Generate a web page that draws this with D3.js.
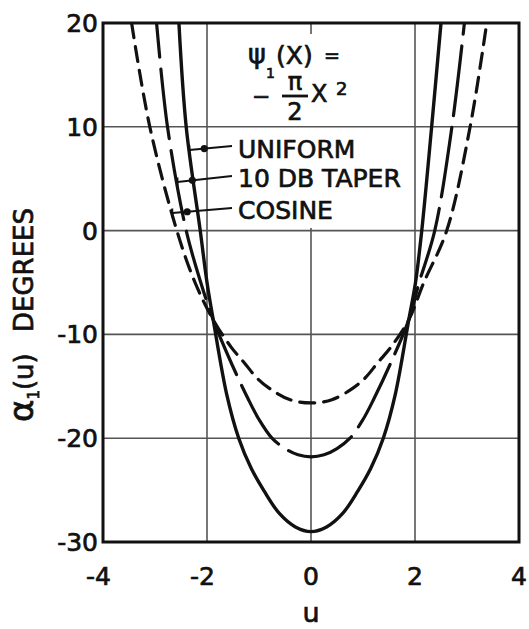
<!DOCTYPE html>
<html>
<head>
<meta charset="utf-8">
<script src="https://cdn.jsdelivr.net/npm/d3@7"></script>
<style>
  body { margin: 0; background: #fff; }
  text { font-family: "DejaVu Sans", sans-serif; fill: #111; stroke: #111; stroke-width: 0.7px; }
</style>
</head>
<body>
<svg id="chart" width="529" height="629"></svg>
<script>
// Pattern phase alpha_1(u), in degrees, for a quadratic aperture phase
// psi_1(x) = -(pi/2) x^2 under three amplitude tapers.
const uniformU   = [-2.54, -2.40, -2.13, -2.00, -1.88, -1.62, -1.39, -1.15, -0.90, -0.60, -0.30, 0, 0.30, 0.60, 0.90, 1.15, 1.39, 1.62, 1.88, 2.01, 2.13, 2.32, 2.50];
const uniformDeg = [20, 10, 0, -5, -8.6, -15.8, -20, -22.9, -25.1, -27.3, -28.55, -29.0, -28.55, -27.3, -25.1, -22.9, -20, -15.8, -8.6, -5, 0, 10, 20];

const taperU   = [-2.97, -2.76, -2.40, -2.12, -1.88, -1.52, -1.21, -1.00, -0.75, -0.50, -0.25, 0, 0.25, 0.50, 0.75, 1.00, 1.21, 1.52, 1.88, 2.08, 2.38, 2.71, 2.95];
const taperDeg = [20, 10, 0, -5, -8.6, -12.9, -16.2, -18.2, -20, -21.0, -21.6, -21.8, -21.6, -21.0, -20, -18.2, -16.2, -12.9, -8.6, -5, 0, 10, 20];

const cosineU   = [-3.45, -3.10, -2.58, -2.23, -1.88, -1.54, -1.28, -1.04, -0.80, -0.40, 0, 0.40, 0.80, 1.04, 1.28, 1.54, 1.88, 2.17, 2.61, 3.06, 3.38];
const cosineDeg = [20, 10, 0, -5, -8.6, -11.2, -12.75, -14.2, -15.2, -16.3, -16.6, -16.3, -15.2, -14.2, -12.75, -11.2, -8.6, -5, 0, 10, 20];

const xTickValues = [-4, -2, 0, 2, 4];
const xTickLabels = ["-4", "-2", "0", "2", "4"];
const yTickValues = [-30, -20, -10, 0, 10, 20];
const yTickLabels = ["-30", "-20", "-10", "0", "10", "20"];

const seriesNames = ["UNIFORM", "10 DB TAPER", "COSINE"];

// ---- layout ----
const plot = { left: 103, right: 519, top: 23, bottom: 542 };
const legend = { x: 238, baselines: [158, 187, 219], leaderEndX: 232, leaderEndY: [146, 176, 208], tipY: [150, 182, 213], dotOffset: 15 };
const formulaGap = { top: 34, bottom: 228 };   // the u = 0 grid line stops behind the formula block
const ink = "#111", gridInk = "#555";

const svg = d3.select("#chart");
const x = d3.scaleLinear().domain([-4, 4]).range([plot.left, plot.right]);
const y = d3.scaleLinear().domain([-30, 20]).range([plot.bottom, plot.top]);

// gapAtU: where along the bottom of a dashed curve one of the gaps sits
const series = [
  { u: uniformU, deg: uniformDeg, dash: null,          width: 3.4 },
  { u: taperU,   deg: taperDeg,   dash: [70, 12],      width: 3.2, gapAtU: -0.7 },
  { u: cosineU,  deg: cosineDeg,  dash: [15, 9],       width: 3.2 }
];

// ---- grid ----
const grid = svg.append("g").attr("stroke", gridInk).attr("stroke-width", 1.6);
xTickValues.filter(v => v > -4 && v < 4).forEach(v => {
  if (v === 0) {
    grid.append("line").attr("x1", x(v)).attr("x2", x(v)).attr("y1", plot.top).attr("y2", formulaGap.top);
    grid.append("line").attr("x1", x(v)).attr("x2", x(v)).attr("y1", formulaGap.bottom).attr("y2", plot.bottom);
  } else {
    grid.append("line").attr("x1", x(v)).attr("x2", x(v)).attr("y1", plot.top).attr("y2", plot.bottom);
  }
});
yTickValues.filter(v => v > -30 && v < 20).forEach(v => {
  grid.append("line").attr("x1", plot.left).attr("x2", plot.right).attr("y1", y(v)).attr("y2", y(v));
});

// ---- curves ----
svg.append("clipPath").attr("id", "plotClip").append("rect")
  .attr("x", plot.left).attr("y", plot.top)
  .attr("width", plot.right - plot.left).attr("height", plot.bottom - plot.top);

const line = d3.line().x(d => x(d[0])).y(d => y(d[1])).curve(d3.curveCatmullRom.alpha(0.5));
const curves = svg.append("g").attr("clip-path", "url(#plotClip)");
series.forEach(s => {
  const pts = s.u.map((u, i) => [u, s.deg[i]]);
  const path = curves.append("path")
    .attr("d", line(pts))
    .attr("fill", "none")
    .attr("stroke", ink)
    .attr("stroke-width", s.width)
    .attr("stroke-linecap", "round");
  if (s.dash) {
    path.attr("stroke-dasharray", s.dash.join(","));
    if (s.gapAtU !== undefined) {
      // shift the dash pattern so a gap is centred at gapAtU on the lower arc
      const node = path.node(), total = node.getTotalLength();
      const target = x(s.gapAtU);
      let best = 0, bestD = Infinity;
      for (let L = 0; L <= total; L += 0.5) {
        const p = node.getPointAtLength(L);
        if (p.y > y(-12)) {
          const d = Math.abs(p.x - target);
          if (d < bestD) { bestD = d; best = L; }
        }
      }
      const period = s.dash[0] + s.dash[1];
      const gapCentre = s.dash[0] + s.dash[1] / 2;
      const off = ((gapCentre - best) % period + period) % period;
      path.attr("stroke-dashoffset", -off + period);
    }
  }
});

// ---- frame ----
svg.append("rect")
  .attr("x", plot.left).attr("y", plot.top)
  .attr("width", plot.right - plot.left).attr("height", plot.bottom - plot.top)
  .attr("fill", "none").attr("stroke", ink).attr("stroke-width", 3);

// ---- tick labels ----
const probe = svg.append("text").attr("font-size", 25).text("0");
const digitW = probe.node().getComputedTextLength();
probe.remove();

svg.append("g").selectAll("text").data(xTickValues).join("text")
  .attr("x", d => x(d) + digitW / 2)
  .attr("y", 585)
  .attr("text-anchor", "end")
  .attr("font-size", 25)
  .text((d, i) => xTickLabels[i]);

svg.append("g").selectAll("text").data(yTickValues).join("text")
  .attr("x", 98)
  .attr("y", d => y(d))
  .attr("dy", "0.36em")
  .attr("text-anchor", "end")
  .attr("font-size", 25)
  .text((d, i) => yTickLabels[i]);

// ---- axis titles ----
svg.append("text").attr("x", x(0)).attr("y", 622).attr("text-anchor", "middle")
  .attr("font-size", 27).text("u");

const yTitle = svg.append("text")
  .attr("transform", "translate(33,315) rotate(-90)")
  .attr("text-anchor", "middle")
  .attr("font-size", 26);
yTitle.append("tspan").attr("font-size", 34).text("α");
yTitle.append("tspan").attr("font-size", 15).attr("dy", 6).text("1");
yTitle.append("tspan").attr("dy", -6).text("(u)");
yTitle.append("tspan").text("\u2002 DEGREES");

// ---- formula block ----
const f = svg.append("g");
f.append("text").attr("x", 248).attr("y", 63).attr("font-size", 27).text("ψ");
f.append("text").attr("x", 266).attr("y", 78).attr("font-size", 14).text("1");
f.append("text").attr("x", 276).attr("y", 64).attr("font-size", 25).text("(X)");
f.append("text").attr("x", 324).attr("y", 62).attr("font-size", 19).text("=");
f.append("text").attr("x", 252).attr("y", 104).attr("font-size", 22).text("−");
f.append("text").attr("x", 295).attr("y", 90).attr("font-size", 24).attr("text-anchor", "middle").text("π");
f.append("line").attr("x1", 282).attr("x2", 308).attr("y1", 96).attr("y2", 96)
  .attr("stroke", ink).attr("stroke-width", 2.8);
f.append("text").attr("x", 295).attr("y", 120).attr("font-size", 24).attr("text-anchor", "middle").text("2");
f.append("text").attr("x", 311).attr("y", 102).attr("font-size", 24).text("X");
f.append("text").attr("x", 336).attr("y", 95).attr("font-size", 18).text("2");

// ---- series labels with leaders pointing at the left branch of each curve ----
function leftBranchU(s, deg) {
  for (let i = 0; i < s.u.length - 1; i++) {
    const a = s.deg[i], b = s.deg[i + 1];
    if ((a - deg) * (b - deg) <= 0 && a !== b) {
      const t = (deg - a) / (b - a);
      return s.u[i] + t * (s.u[i + 1] - s.u[i]);
    }
  }
  return s.u[0];
}

const labels = svg.append("g");
seriesNames.forEach((name, i) => {
  const tipDeg = y.invert(legend.tipY[i]);
  const tipX = x(leftBranchU(series[i], tipDeg));
  const tipY = legend.tipY[i];
  const endX = legend.leaderEndX, endY = legend.leaderEndY[i];
  labels.append("line").attr("x1", tipX).attr("y1", tipY).attr("x2", endX).attr("y2", endY)
    .attr("stroke", ink).attr("stroke-width", 1.8);
  const len = Math.hypot(endX - tipX, endY - tipY);
  const dx = (endX - tipX) / len, dy = (endY - tipY) / len;
  labels.append("circle")
    .attr("cx", tipX + dx * legend.dotOffset).attr("cy", tipY + dy * legend.dotOffset)
    .attr("r", 3.6).attr("fill", ink);
  labels.append("line").attr("x1", tipX).attr("x2", tipX).attr("y1", tipY - 4.5).attr("y2", tipY + 4.5)
    .attr("stroke", ink).attr("stroke-width", 2);
  labels.append("text").attr("x", legend.x).attr("y", legend.baselines[i])
    .attr("font-size", 25).text(name);
});
</script>
</body>
</html>
